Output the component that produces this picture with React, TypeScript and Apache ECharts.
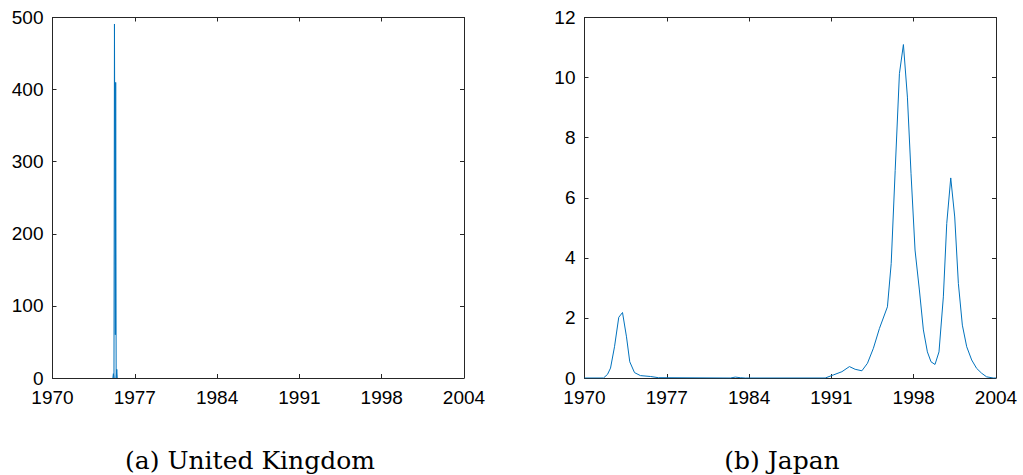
import React, { useEffect, useRef } from "react";
import * as echarts from "echarts";

const xTickLabels = ["1970", "1977", "1984", "1991", "1998", "2004"];
const baseYear = 1970;
const tickStep = 6.8; // years between equally spaced ticks

const ukYears = [1974.99, 1975.03, 1975.08, 1975.12, 1975.19, 1975.22, 1975.26, 1975.31, 1975.35];
const ukValues = [0, 6, 0, 491, 60, 410, 0, 12, 0];

const jpYears = [
  1970.0, 1971.57, 1971.9, 1972.15, 1972.48, 1972.83, 1973.14, 1973.47, 1973.74, 1974.13,
  1974.62, 1975.45, 1976.11, 1982.05, 1982.46, 1982.87, 1983.29, 1989.89, 1990.55, 1991.27,
  1991.89, 1992.36, 1992.92, 1993.38, 1993.87, 1994.37, 1995.03, 1995.34, 1995.67, 1996.02,
  1996.35, 1996.68, 1996.98, 1997.31, 1997.67, 1998.0, 1998.33, 1998.63, 1998.96, 1999.29,
  1999.65, 1999.93, 2000.26, 2000.59, 2000.89, 2001.22, 2001.58, 2001.99, 2002.4, 2002.81,
  2003.22, 2003.77, 2004.0,
];
const jpValues = [
  0, 0, 0.12, 0.33, 1.04, 2.02, 2.18, 1.37, 0.54, 0.18,
  0.08, 0.05, 0.01, 0, 0.03, 0.01, 0, 0, 0.1, 0.21,
  0.38, 0.29, 0.24, 0.49, 0.99, 1.65, 2.37, 3.81, 6.91, 10.13,
  11.1, 9.35, 6.8, 4.26, 2.93, 1.6, 0.87, 0.54, 0.45, 0.87,
  2.7, 5.14, 6.66, 5.36, 3.15, 1.76, 1.04, 0.6, 0.32, 0.16,
  0.04, 0, 0,
];

const captions = ["(a) United Kingdom", "(b) Japan"];

const axisColor = "#262626";
const lineColor = "#0072BD";
const labelFont = "'Liberation Sans', Arial, Helvetica, sans-serif";

export default function App() {
  const ref = useRef<HTMLDivElement>(null);

  useEffect(() => {
    if (!ref.current) return;
    const chart = echarts.init(ref.current, undefined, { renderer: "svg" });

    const grids = [
      { left: 52.5, top: 17.5, width: 411.5, height: 360.5 },
      { left: 584.5, top: 17.5, width: 411.5, height: 360.5 },
    ];
    const yMax = [500, 12];
    const yInt = [100, 2];

    const xAxes: any[] = [];
    const yAxes: any[] = [];
    grids.forEach((_, i) => {
      const common = {
        type: "value",
        gridIndex: i,
        min: 0,
        max: 2004 - baseYear,
        interval: tickStep,
        axisLine: { show: true, onZero: false, lineStyle: { color: axisColor, width: 1 } },
        axisTick: { show: true, inside: true, length: 4, lineStyle: { color: axisColor } },
        splitLine: { show: false },
      };
      xAxes.push({
        ...common,
        position: "bottom",
        axisLabel: {
          show: true,
          margin: 10,
          fontSize: 19,
          color: "#000",
          fontFamily: labelFont,
          formatter: (v: number) => xTickLabels[Math.round(v / tickStep)] ?? "",
        },
      });
      xAxes.push({ ...common, position: "top", axisLabel: { show: false } });
      const ycommon = {
        type: "value",
        gridIndex: i,
        min: 0,
        max: yMax[i],
        interval: yInt[i],
        axisLine: { show: true, onZero: false, lineStyle: { color: axisColor, width: 1 } },
        axisTick: { show: true, inside: true, length: 4, lineStyle: { color: axisColor } },
        splitLine: { show: false },
      };
      yAxes.push({
        ...ycommon,
        position: "left",
        axisLabel: { show: true, margin: 9, fontSize: 19, color: "#000", fontFamily: labelFont },
      });
      yAxes.push({ ...ycommon, position: "right", axisLabel: { show: false } });
    });

    const ukData = ukYears.map((y, k) => [y - baseYear, ukValues[k]]);
    const jpData = jpYears.map((y, k) => [y - baseYear, jpValues[k]]);

    chart.setOption({
      animation: false,
      backgroundColor: "#fff",
      grid: grids,
      xAxis: xAxes,
      yAxis: yAxes,
      series: [
        {
          type: "line",
          xAxisIndex: 0,
          yAxisIndex: 0,
          data: ukData,
          symbol: "none",
          lineStyle: { color: lineColor, width: 1 },
          clip: true,
        },
        {
          type: "line",
          xAxisIndex: 2,
          yAxisIndex: 2,
          data: jpData,
          symbol: "none",
          lineStyle: { color: lineColor, width: 1 },
          clip: true,
        },
      ],
      graphic: [
        {
          type: "text",
          x: 250,
          y: 460,
          style: {
            text: captions[0],
            fontSize: 25,
            fontFamily: "'DejaVu Serif', serif",
            fill: "#000",
            align: "center",
            verticalAlign: "middle",
          },
        },
        {
          type: "text",
          x: 782,
          y: 460,
          style: {
            text: captions[1],
            fontSize: 25,
            fontFamily: "'DejaVu Serif', serif",
            fill: "#000",
            align: "center",
            verticalAlign: "middle",
          },
        },
      ],
    });

    return () => chart.dispose();
  }, []);

  return (
    <div
      ref={ref}
      style={{ position: "absolute", left: 0, top: 0, width: 1023, height: 475 }}
    />
  );
}
